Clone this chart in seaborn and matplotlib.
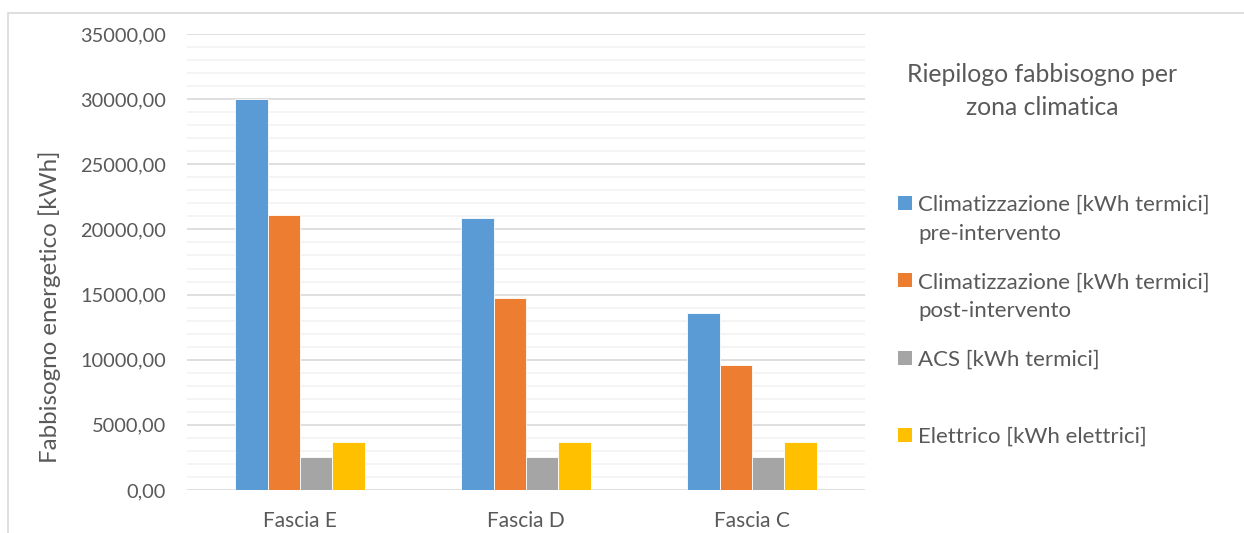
import matplotlib
matplotlib.use("Agg")
import matplotlib.pyplot as plt
import matplotlib.ticker as mticker
from matplotlib.patches import Rectangle
from matplotlib.legend_handler import HandlerPatch
import seaborn as sns
import pandas as pd

# Fabbisogno energetico per zona climatica
categories = ["Fascia E", "Fascia D", "Fascia C"]
series_names = [
    "Climatizzazione [kWh termici]\npre-intervento",
    "Climatizzazione [kWh termici]\npost-intervento",
    "ACS [kWh termici]",
    "Elettrico [kWh elettrici]",
]
clima_pre = [30000, 20900, 13580]
clima_post = [21130, 14735, 9570]
acs = [2530, 2530, 2530]
elettrico = [3680, 3680, 3680]
colors = ["#5B9BD5", "#ED7D31", "#A5A5A5", "#FFC000"]
title = "Riepilogo fabbisogno per\nzona climatica"
ylabel = "Fabbisogno energetico [kWh]"

rows = []
for name, vals in zip(series_names, [clima_pre, clima_post, acs, elettrico]):
    for cat, v in zip(categories, vals):
        rows.append({"zona": cat, "serie": name, "kWh": v})
df = pd.DataFrame(rows)

sns.set_theme(style="white")
plt.rcParams["font.family"] = ["Lato", "DejaVu Sans"]
text_col = "#595959"

fig = plt.figure(figsize=(12.44, 5.33), dpi=100)
W, H = 1244, 533
ax = fig.add_axes([187 / W, 1 - 490 / H, (865 - 187) / W, (490 - 34) / H])

sns.barplot(data=df, x="zona", y="kWh", hue="serie", hue_order=series_names,
            order=categories, palette=colors, width=0.572, ax=ax,
            edgecolor="white", linewidth=0.6, saturation=1, zorder=3)

ax.set_xlim(-0.5, 2.5)
ax.set_ylim(0, 35000)
ax.yaxis.set_major_locator(mticker.MultipleLocator(5000))
ax.yaxis.set_minor_locator(mticker.MultipleLocator(1000))
ax.yaxis.set_major_formatter(mticker.FuncFormatter(lambda v, p: f"{v:.2f}".replace(".", ",")))
ax.grid(True, which="major", axis="y", color="#D9D9D9", linewidth=1.2, zorder=0)
ax.grid(True, which="minor", axis="y", color="#F2F2F2", linewidth=1.2, zorder=0)
ax.set_axisbelow(True)
for s in ax.spines.values():
    s.set_visible(False)
ax.tick_params(axis="both", which="both", length=0, labelcolor=text_col)
ax.tick_params(axis="y", labelsize=14.4, pad=15)
ax.tick_params(axis="x", labelsize=15, pad=15)
ax.set_xlabel("")
ax.set_ylabel(ylabel, fontsize=17.4, color=text_col)
ax.yaxis.set_label_coords((61 - 187) / 678, (490 - 307) / 456)


class FirstLineHandler(HandlerPatch):
    """Square legend key aligned with the first line of a two-line label."""

    def __init__(self, shift, **kw):
        super().__init__(**kw)
        self.shift = shift

    def create_artists(self, legend, orig_handle, xdescent, ydescent, width, height,
                       fontsize, trans):
        side = min(width, height)
        p = Rectangle((-xdescent, -ydescent + self.shift), side, side,
                      facecolor=orig_handle.get_facecolor(), edgecolor="none")
        p.set_transform(trans)
        return [p]


handles, labels = ax.get_legend_handles_labels()
ax.legend_.remove()
labels = [l if "\n" in l else l + "\n" for l in labels]
handler = FirstLineHandler(shift=12)
leg = fig.legend(handles, labels, loc="upper left", bbox_to_anchor=(898 / W, 1 - 195 / H),
                 frameon=False, fontsize=16, labelcolor=text_col, handlelength=0.63,
                 handleheight=0.63, handletextpad=0.27, labelspacing=1.28,
                 borderpad=0, borderaxespad=0,
                 handler_map={h: handler for h in handles})
for t in leg.get_texts():
    t.set_linespacing(1.55)

fig.text(1042 / W, 1 - 91 / H, title, ha="center", va="center", fontsize=17.8,
         color=text_col, linespacing=1.5)

fig.patches.append(Rectangle((8 / W, -0.1), 1.2, 1 - 13 / H + 0.1, transform=fig.transFigure,
                             fill=False, edgecolor="#D9D9D9", linewidth=1.2))

fig.savefig("out.png", dpi=100)
